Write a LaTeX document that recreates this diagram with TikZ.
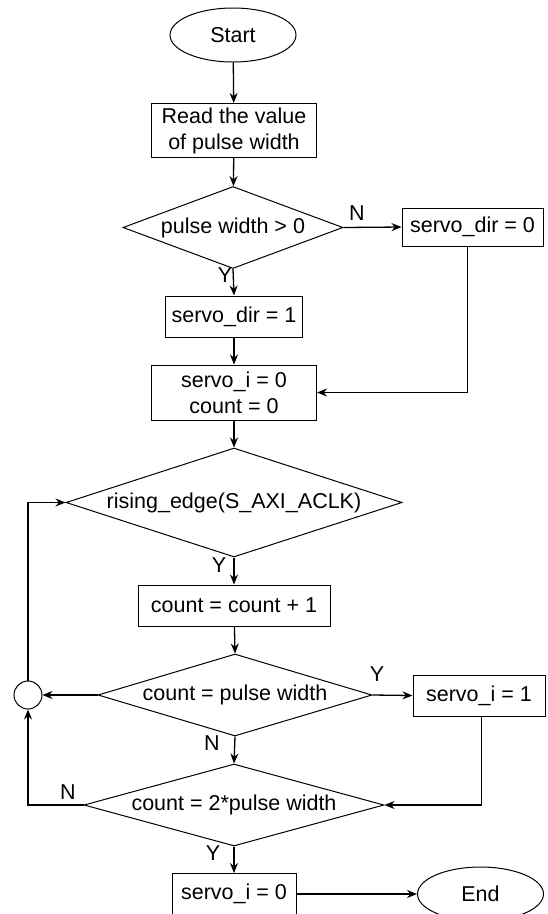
\documentclass[tikz,border=0pt]{standalone}
\usepackage{fontspec}
\setmainfont{Liberation Sans}
\usetikzlibrary{shapes.geometric,arrows.meta}
\begin{document}
\begin{tikzpicture}[x=1pt,y=-1pt,
  every node/.style={font=\fontsize{21.5}{26}\selectfont, inner sep=0pt, align=center},
  procbox/.style={draw, line width=1pt, rectangle},
  termnode/.style={draw, line width=1pt, ellipse, minimum width=126pt, minimum height=54pt},
  decnode/.style={draw, line width=1pt, diamond, aspect=1},
  joinnode/.style={draw, line width=1pt, circle, minimum size=28pt},
  conn/.style={line width=1.3pt, -{Stealth[length=10pt,width=8pt]}},
  plainconn/.style={line width=1.3pt},
  lbl/.style={font=\fontsize{21.5}{26}\selectfont}
]
\clip (0,0) rectangle (547,914);
\useasboundingbox (0,0) rectangle (547,914);
\fill[white] (0,0) rectangle (547,914);

\node[termnode] (start) at (233,35) {Start};
\node[procbox, minimum width=165pt, minimum height=54pt] (read) at (234,130.5) {Read the value\\of pulse width};
\node[decnode, minimum width=220pt, minimum height=82pt] (d1) at (233,227.5) {\makebox[0pt]{pulse width > 0}};
\node[procbox, minimum width=141pt, minimum height=38pt] (sd0) at (472.5,227) {servo\_dir = 0};
\node[procbox, minimum width=137pt, minimum height=41pt] (sd1) at (234,316.5) {servo\_dir = 1};
\node[procbox, minimum width=165pt, minimum height=55pt] (si0c) at (234,392.5) {servo\_i = 0\\count = 0};
\node[decnode, minimum width=336pt, minimum height=109pt] (d2) at (234,502.5) {\makebox[0pt]{rising\_edge(S\_AXI\_ACLK)}};
\node[procbox, minimum width=192pt, minimum height=41pt] (cnt) at (234,605.5) {count = count + 1};
\node[decnode, minimum width=274pt, minimum height=82pt] (d3) at (235,695) {\makebox[0pt]{count = pulse width}};
\node[joinnode] (jn) at (28,695) {};
\node[procbox, minimum width=132pt, minimum height=41pt] (si1) at (479,695.5) {servo\_i = 1};
\node[decnode, minimum width=300pt, minimum height=82pt] (d4) at (234,805) {\makebox[0pt]{count = 2*pulse width}};
\node[procbox, minimum width=124pt, minimum height=41pt] (si0) at (234,894) {servo\_i = 0};
\node[termnode] (end) at (480.5,894) {End};

% connectors
\draw[conn] (start) -- (read);
\draw[conn] (read) -- (d1);
\draw[conn] (d1.east) -- (sd0.west);
\draw[conn] (d1.south) -- (sd1.north);
\draw[conn] (sd1) -- (si0c);
\draw[conn] ([xshift=-5pt]sd0.south) |- (si0c.east);
\draw[conn] (si0c) -- (d2);
\draw[conn] (d2.south) -- (cnt.north);
\draw[conn] (cnt) -- (d3.north);
\draw[conn] (d3.east) -- (si1.west);
\draw[conn] (d3.west) -- (jn.east);
\draw[conn] (d3.south) -- (d4.north);
\draw[conn] ([xshift=2.5pt]si1.south) |- (d4.east);
\draw[conn] (d4.west) -| (jn.south);
\draw[conn] (jn.north) |- (d2.west);
\draw[conn] (d4.south) -- (si0.north);
\draw[conn] (si0.east) -- (end.west);

% labels
\node[lbl] (n1) at (357,213) {N};
\node[lbl] (y1) at (225,275) {Y};
\node[lbl] (y2) at (219,565) {Y};
\node[lbl] (y3) at (377,674) {Y};
\node[lbl] (n3) at (212,743) {N};
\node[lbl] (n4) at (68,792) {N};
\node[lbl] (y4) at (213,853) {Y};
\end{tikzpicture}
\end{document}
